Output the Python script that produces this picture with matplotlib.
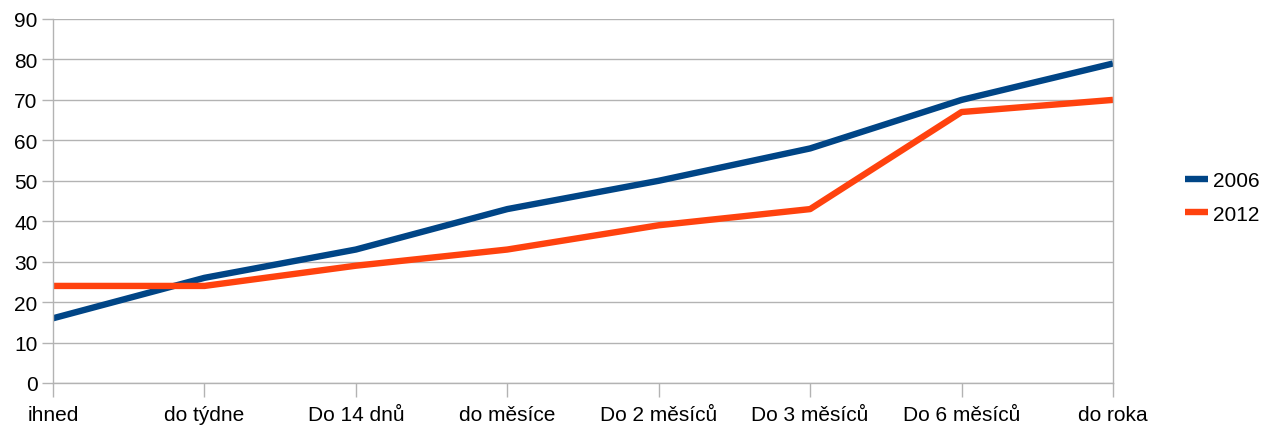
import matplotlib.pyplot as plt

categories = ["ihned", "do týdne", "Do 14 dnů", "do měsíce", "Do 2 měsíců",
              "Do 3 měsíců", "Do 6 měsíců", "do roka"]
series_2006 = [16, 26, 33, 43, 50, 58, 70, 79]
series_2012 = [24, 24, 29, 33, 39, 43, 67, 70]

plt.rcParams['font.family'] = ['Liberation Sans', 'DejaVu Sans']

fig = plt.figure(figsize=(12.62, 4.27), dpi=100)
ax = fig.add_axes([53 / 1262, 1 - 384 / 427, (1113 - 53) / 1262, (384 - 20) / 427])

x = range(len(categories))
ax.plot(x, series_2006, color='#004586', lw=4.6, label='2006', solid_capstyle='butt')
ax.plot(x, series_2012, color='#ff420e', lw=4.6, label='2012', solid_capstyle='butt')

ax.set_xlim(0, len(categories) - 1)
ax.set_ylim(0, 90)
ax.set_yticks(range(0, 91, 10))
ax.set_xticks(list(x))
ax.set_xticklabels(categories)

ax.grid(axis='y', color='#b3b3b3', lw=1)
ax.set_axisbelow(True)
ax.spines['top'].set_visible(False)
for s in ['left', 'bottom', 'right']:
    ax.spines[s].set_color('#b3b3b3')
    ax.spines[s].set_linewidth(1)

ax.tick_params(axis='y', length=8, width=1, color='#b3b3b3', labelsize=15, pad=3)
ax.tick_params(axis='x', length=10, width=1, color='#b3b3b3', labelsize=15, pad=6)

ax.legend(loc='center left', bbox_to_anchor=(1.06, 0.51), frameon=False,
          fontsize=15, handlelength=1.1, handletextpad=0.25, labelspacing=0.7,
          borderaxespad=0)

fig.savefig('out.png', dpi=100)
